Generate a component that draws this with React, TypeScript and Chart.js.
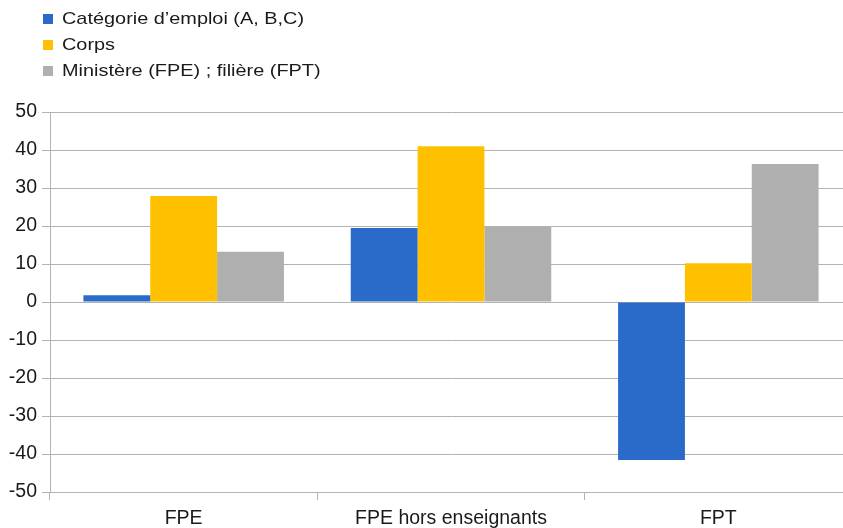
import React, { useEffect, useRef } from "react";
import { Chart, registerables } from "chart.js";

Chart.register(...registerables);

const categories = ["FPE", "FPE hors enseignants", "FPT"];
const seriesNames = ["Catégorie d’emploi (A, B,C)", "Corps", "Ministère (FPE) ; filière (FPT)"];
const categorieEmploi = [1.8, 19.5, -41.6];
const corps = [27.9, 41.0, 10.2];
const ministereFiliere = [13.2, 19.9, 36.3];
const colors = ["#2a6ac8", "#ffc000", "#afafaf"];

const FONT = "'Liberation Sans', Arial, sans-serif";
const GRID = "#b3b3b3";
const TEXT = "#1a1a1a";

export default function App() {
  const ref = useRef<HTMLCanvasElement | null>(null);

  useEffect(() => {
    if (!ref.current) return;
    const values = [categorieEmploi, corps, ministereFiliere];
    const chart = new Chart(ref.current, {
      type: "bar",
      data: {
        labels: categories,
        datasets: seriesNames.map((name, i) => ({
          label: name,
          data: values[i],
          backgroundColor: colors[i],
          borderWidth: 0,
          categoryPercentage: 0.75,
          barPercentage: 1.0,
        })),
      },
      options: {
        responsive: false,
        animation: false,
        layout: { padding: { top: 112, right: 0, bottom: 0, left: 0 } },
        plugins: { legend: { display: false }, tooltip: { enabled: false } },
        scales: {
          x: {
            grid: { offset: true, drawOnChartArea: false, drawTicks: true, tickLength: 8, color: GRID },
            border: { display: true, color: GRID },
            ticks: { font: { family: FONT, size: 19.5 }, color: TEXT, padding: 7, maxRotation: 0 },
            afterFit: (scale: any) => {
              scale.height = 36;
            },
          },
          y: {
            min: -50,
            max: 50,
            ticks: { stepSize: 10, font: { family: FONT, size: 19.5 }, color: TEXT, padding: 5 },
            grid: { color: GRID, tickLength: 8 },
            border: { display: true, color: GRID },
            afterFit: (scale: any) => {
              scale.width = 50;
            },
          },
        },
      },
    });
    return () => chart.destroy();
  }, []);

  return (
    <div style={{ position: "fixed", left: 0, top: 0, width: 843, height: 528, overflow: "hidden", background: "#fff" }}>
      <canvas ref={ref} width={852} height={528} style={{ position: "absolute", left: 0, top: 0 }} />
      <div style={{ position: "absolute", left: 43, top: 6, fontFamily: FONT, fontSize: 17, color: TEXT }}>
        {seriesNames.map((name, i) => (
          <div key={name} style={{ display: "flex", alignItems: "center", height: 26 }}>
            <span style={{ display: "inline-block", width: 10, height: 10, background: colors[i], marginRight: 9 }} />
            <span style={{ display: "inline-block", transform: "scaleX(1.17)", transformOrigin: "left center", whiteSpace: "nowrap" }}>{name}</span>
          </div>
        ))}
      </div>
    </div>
  );
}
